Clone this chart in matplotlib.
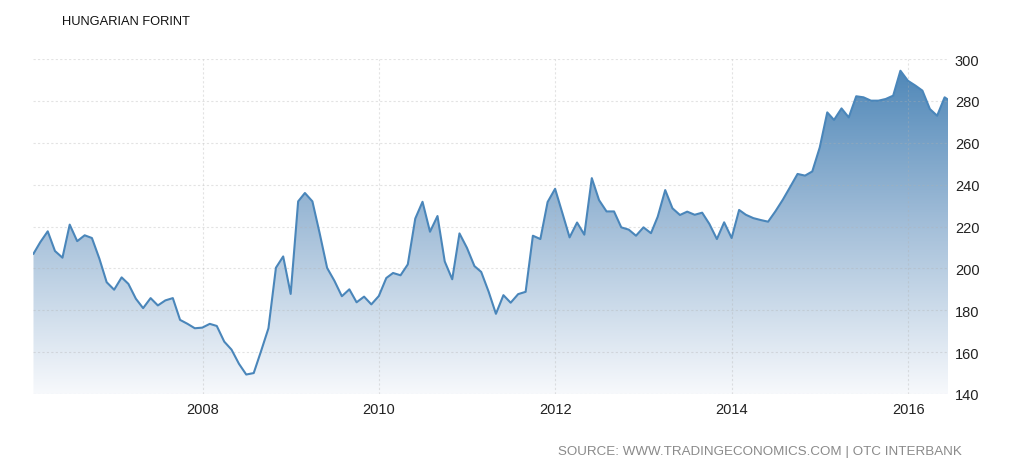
import numpy as np
import pandas as pd
import matplotlib
matplotlib.use("Agg")
import matplotlib.pyplot as plt
import matplotlib.dates as mdates
from matplotlib.colors import LinearSegmentedColormap

# ---- data ----
monthly_values = [
    207.0, 212.5, 217.7, 208.3, 205.1, 220.9, 213.0, 215.8, 214.5, 204.6, 193.4, 189.8,   # 2006
    195.7, 192.6, 185.5, 181.0, 185.8, 182.3, 184.7, 185.8, 175.4, 173.5, 171.4, 171.7,   # 2007
    173.5, 172.5, 165.0, 161.2, 154.4, 149.3, 150.0, 160.7, 171.4, 200.3, 205.7, 187.8,   # 2008
    232.0, 236.0, 232.0, 216.8, 200.2, 194.1, 186.7, 190.0, 183.8, 186.5, 182.8, 186.8,   # 2009
    195.4, 197.8, 196.7, 201.9, 223.8, 231.8, 217.5, 225.0, 203.3, 194.8, 216.7, 209.8,   # 2010
    201.1, 198.3, 188.8, 178.3, 187.2, 183.6, 187.7, 188.8, 215.6, 214.0, 231.7, 238.0,   # 2011
    226.1, 214.8, 221.9, 216.1, 243.1, 232.6, 227.2, 227.2, 219.6, 218.5, 215.6, 219.6,   # 2012
    216.8, 224.7, 237.4, 228.7, 225.5, 227.1, 225.6, 226.6, 221.2, 214.0, 222.0, 214.5,   # 2013
    227.9, 225.6, 224.0, 223.1, 222.3, 227.2, 232.8, 239.0, 245.1, 244.3, 246.3, 257.8,   # 2014
    274.5, 270.9, 276.4, 272.1, 282.2, 281.7, 280.1, 280.1, 280.9, 282.5, 294.4, 289.6,   # 2015
    287.3, 284.9, 276.1, 272.9, 281.7,                                                    # 2016
]
latest_date = "2016-06-14"
latest_value = 280.6

y_ticks = [140, 160, 180, 200, 220, 240, 260, 280, 300]
x_tick_years = [2008, 2010, 2012, 2014, 2016]
title_text = "HUNGARIAN FORINT"
source_text = "SOURCE: WWW.TRADINGECONOMICS.COM | OTC INTERBANK"

dates = list(pd.date_range("2006-01-31", periods=len(monthly_values), freq="ME")) + [pd.Timestamp(latest_date)]
values = monthly_values + [latest_value]
x = mdates.date2num(dates)
y = np.array(values)

plt.rcParams["font.family"] = ["Liberation Sans", "DejaVu Sans"]

# ---- figure ----
fig = plt.figure(figsize=(10.24, 4.77), dpi=100)
ax = fig.add_axes([33 / 1024, 1 - 395 / 477, (948 - 33) / 1024, (395 - 60) / 477])

ymin, ymax = 140, 300
ax.set_ylim(ymin, ymax)
ax.set_xlim(x[0] - 2, x[-1])

# gradient fill
cmap = LinearSegmentedColormap.from_list("g", ["#f7f9fc", "#a4bfd9", "#4a84b6"])
grad = np.linspace(0, 1, 256).reshape(-1, 1)
im = ax.imshow(grad, cmap=cmap, aspect="auto", origin="lower",
               extent=[x[0], x[-1], ymin, ymax], zorder=1)
poly = ax.fill_between(x, y, ymin, color="none", lw=0)
path = poly.get_paths()[0]
im.set_clip_path(path, transform=ax.transData)

ax.plot(x, y, color="#4a86ba", lw=1.5, zorder=3, solid_joinstyle="round")

# grid (drawn faintly over the fill)
ax.set_yticks(y_ticks)
ax.set_xticks([mdates.date2num(pd.Timestamp(f"{yr}-01-01")) for yr in x_tick_years])
ax.set_xticklabels([str(yr) for yr in x_tick_years])
ax.grid(True, color="#b0b0b0", alpha=0.35, lw=0.8, ls=(0, (2, 2)), zorder=2)
for s in ax.spines.values():
    s.set_visible(False)

ax.yaxis.tick_right()
ax.tick_params(axis="both", length=0, labelsize=10.5, colors="#222222")
ax.tick_params(axis="y", pad=5)
ax.tick_params(axis="x", pad=6)

fig.text(62 / 1024, 1 - 22 / 477, title_text, fontsize=9.3, color="#111111", va="center", ha="left")
fig.text(962 / 1024, 1 - 452 / 477, source_text, fontsize=9.6, color="#8a8a8a", va="center", ha="right")

fig.savefig("out.png", dpi=100)
